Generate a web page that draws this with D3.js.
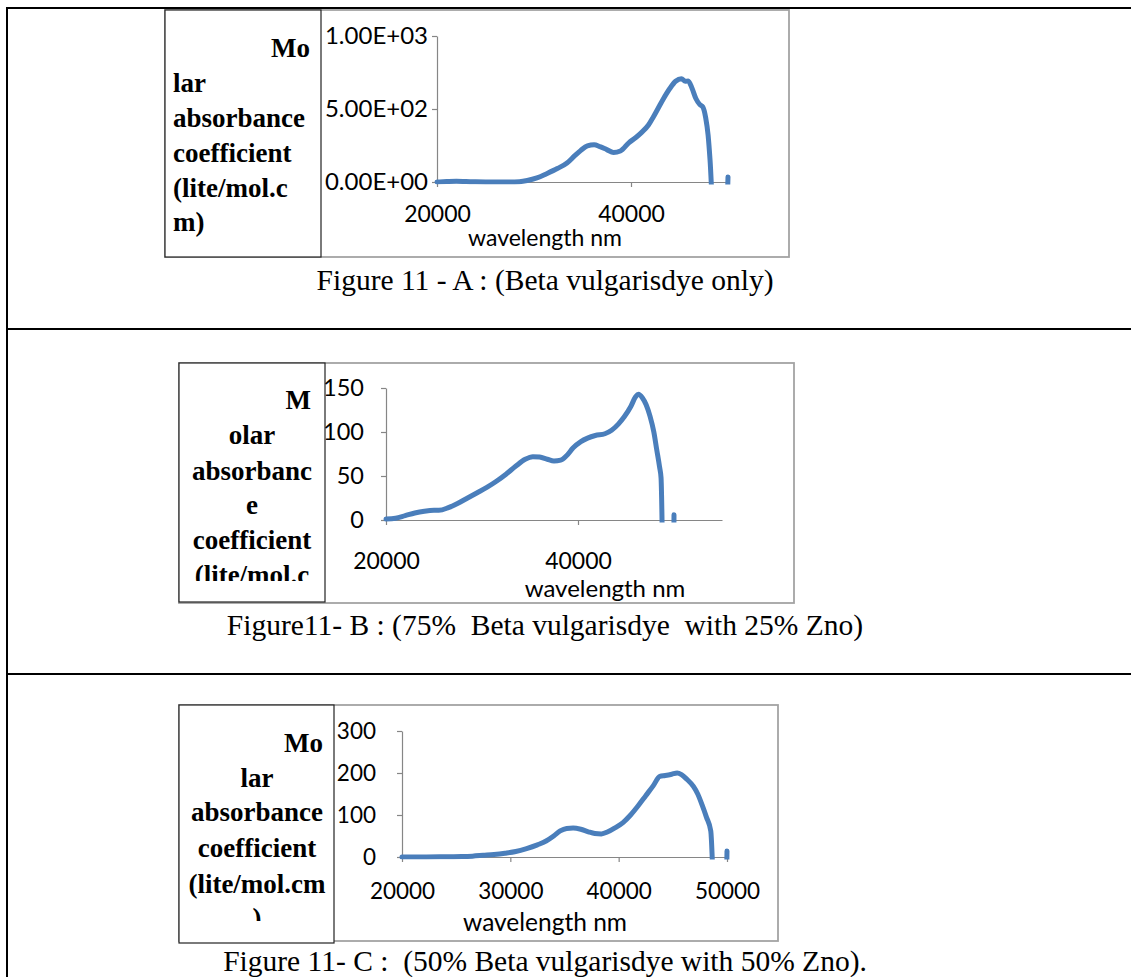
<!DOCTYPE html>
<html>
<head>
<meta charset="utf-8">
<script src="https://cdn.jsdelivr.net/npm/d3@7"></script>
<style>
  html, body { margin: 0; padding: 0; background: #fff; }
  svg { display: block; }
</style>
</head>
<body>
<svg id="fig" width="1131" height="977"></svg>
<script>
// ---- Panel A: Beta vulgaris dye only ----
const wavelengthA = [20000, 21000, 22000, 23000, 24000, 25000, 26500, 27500, 28500, 29300,
  30300, 31300, 32400, 33400, 34200, 34800, 35500, 36200, 36800, 37500, 38200, 38900,
  39800, 40500, 41100, 41800, 42300, 42800, 43300, 44000, 44600, 45200, 45600, 45900,
  46300, 46700, 47100, 47400, 47700, 47950, 48150, 48600, 49600, 50000];
const absorbanceA = [0, 3, 5, 3, 1, 0, 0, 0, 2, 10,
  28, 57, 92, 130, 180, 215, 248, 255, 242, 222, 202, 212,
  270, 305, 340, 390, 445, 505, 565, 640, 690, 708, 690, 692,
  640, 570, 530, 515, 440, 320, 150, -400, -600, 35];

// ---- Panel B: 75% dye with 25% ZnO ----
const wavelengthB = [20000, 21000, 22000, 23000, 24000, 25000, 25500, 26500, 27500, 28500,
  29500, 30500, 31500, 32500, 33500, 34500, 35300, 36000, 36800, 37500, 38200, 38800,
  39500, 40300, 41000, 41800, 42800, 43500, 44200, 44800, 45500, 46000, 46300, 46700,
  47100, 47500, 47900, 48200, 48500, 48650, 49000, 49800, 50000];
const absorbanceB = [1, 2, 5, 8, 10, 11, 11, 14, 19, 25,
  31, 37, 44, 52, 61, 69, 72, 71.5, 69, 67, 68, 73,
  82, 89, 93, 96, 98, 102, 109, 117, 129, 140, 143, 139,
  131, 118, 100, 80, 60, 48, -150, -200, 6];

// ---- Panel C: 50% dye with 50% ZnO ----
const wavelengthC = [20000, 22000, 24000, 25500, 26500, 27500, 28500, 29500, 30500, 31500,
  32500, 33300, 34000, 34600, 35200, 35800, 36500, 37200, 37800, 38400, 39000, 39700,
  40400, 41100, 41800, 42500, 43200, 43800, 44300, 44900, 45400, 45800, 46300, 46900,
  47300, 47700, 48100, 48500, 48900, 49800, 50000];
const absorbanceC = [0, 0, 0.5, 1, 2, 4, 6, 9, 13, 20,
  29, 38, 50, 62, 68, 69, 66, 60, 56, 55, 60, 70,
  82, 100, 122, 146, 170, 192, 194, 197, 200, 196, 185, 168,
  150, 124, 95, 62, -150, -200, 14];

// Axis ticks and their labels
const xTicksA = [20000, 40000];
const yTicksA = [0, 500, 1000];
const yTickLabelsA = ["0.00E+00", "5.00E+02", "1.00E+03"];
const xTicksB = [20000, 40000];
const yTicksB = [0, 50, 100, 150];
const yTickLabelsB = ["0", "50", "100", "150"];
const xTicksC = [20000, 30000, 40000, 50000];
const yTicksC = [0, 100, 200, 300];
const yTickLabelsC = ["0", "100", "200", "300"];

const xTitle = "wavelength nm";
const yTitleLinesA = ["Mo", "lar", "absorbance", "coefficient", "(lite/mol.c", "m)"];
const yTitleLinesB = ["M", "olar", "absorbanc", "e", "coefficient", "(lite/mol.c"];
const yTitleLinesC = ["Mo", "lar", "absorbance", "coefficient", "(lite/mol.cm", ")"];
const captions = [
  "Figure 11 - A : (Beta vulgarisdye only)",
  "Figure11- B : (75%  Beta vulgarisdye  with 25% Zno)",
  "Figure 11- C :  (50% Beta vulgarisdye with 50% Zno)."
];

const svg = d3.select("#fig");
const LINE = "#4a7ebb";
const AXIS = "#868686";
const SANS = "Lato, 'Open Sans', sans-serif";
const SERIF = "'Liberation Serif', 'Times New Roman', serif";

// Table grid framing the three figures
const grid = svg.append("g").attr("stroke", "#000").attr("stroke-width", 2);
[8, 329, 674].forEach(y => grid.append("line").attr("x1", 6).attr("x2", 1131).attr("y1", y).attr("y2", y));
grid.append("line").attr("x1", 7).attr("x2", 7).attr("y1", 7).attr("y2", 977);

const panels = [
  {
    id: "A", wl: wavelengthA, ab: absorbanceA,
    xDomain: [20000, 50000], xRange: [437, 728], xTicks: xTicksA,
    yDomain: [0, 1000], yRange: [182, 36], yTicks: yTicksA, yLabels: yTickLabelsA, yLabelEnd: 428,
    frame: [165, 10, 789, 257], labelBox: [165, 10, 321, 257],
    titleLines: yTitleLinesA, titleAlign: "left", titleX: 173, firstX: 310,
    titleBase: [57, 92, 127, 162, 197, 231], titleClip: 240,
    tickFont: 23, yTickFont: 24, titleFont: 23, tickBase: 222, xTitleX: 545, xTitleBase: 246,
    caption: captions[0], capBase: 290
  },
  {
    id: "B", wl: wavelengthB, ab: absorbanceB,
    xDomain: [20000, 55000], xRange: [386, 722], xTicks: xTicksB,
    yDomain: [0, 150], yRange: [520, 388], yTicks: yTicksB, yLabels: yTickLabelsB, yLabelEnd: 364,
    frame: [179, 363, 794, 603], labelBox: [179, 363, 325, 602],
    titleLines: yTitleLinesB, titleAlign: "middle", titleX: 252, firstX: 311,
    titleBase: [409, 444, 480, 514, 549, 584], titleClip: 581,
    tickFont: 23, yTickFont: 23.5, titleFont: 24, tickBase: 569, xTitleX: 605, xTitleBase: 597,
    caption: captions[1], capBase: 635
  },
  {
    id: "C", wl: wavelengthC, ab: absorbanceC,
    xDomain: [20000, 50000], xRange: [402, 727], xTicks: xTicksC,
    yDomain: [0, 300], yRange: [857, 731], yTicks: yTicksC, yLabels: yTickLabelsC, yLabelEnd: 376,
    frame: [179, 705, 778, 941], labelBox: [179, 705, 334, 943],
    titleLines: yTitleLinesC, titleAlign: "middle", titleX: 257, firstX: 323,
    titleBase: [752, 787, 821, 857, 893, 927], titleClip: 921,
    tickFont: 22.5, yTickFont: 22.5, titleFont: 24.5, tickBase: 899, xTitleX: 545, xTitleBase: 931,
    caption: captions[2], capBase: 971
  }
];

panels.forEach(p => {
  const g = svg.append("g").attr("class", "panel-" + p.id);
  const x = d3.scaleLinear().domain(p.xDomain).range(p.xRange);
  const y = d3.scaleLinear().domain(p.yDomain).range(p.yRange);

  // chart frame
  g.append("rect")
    .attr("x", p.frame[0]).attr("y", p.frame[1])
    .attr("width", p.frame[2] - p.frame[0]).attr("height", p.frame[3] - p.frame[1])
    .attr("fill", "#fff").attr("stroke", "#a3a3a3").attr("stroke-width", 1.8);

  // axes
  const tick = 5;
  const yAxis = d3.axisLeft(y).tickValues(p.yTicks).tickSize(tick).tickSizeOuter(0)
    .tickPadding(p.xRange[0] - p.yLabelEnd - tick)
    .tickFormat((d, i) => p.yLabels[i]);
  const xAxis = d3.axisBottom(x).tickValues(p.xTicks).tickSize(tick).tickSizeOuter(0).tickPadding(0)
    .tickFormat(d3.format("d"));

  const ya = g.append("g").attr("transform", `translate(${p.xRange[0]},0)`).call(yAxis);
  const xa = g.append("g").attr("transform", `translate(0,${p.yRange[0]})`).call(xAxis);
  [ya, xa].forEach(a => {
    a.select(".domain").attr("stroke", AXIS).attr("stroke-width", 1.2);
    a.selectAll(".tick line").attr("stroke", AXIS).attr("stroke-width", 1.2);
    a.selectAll("text").attr("fill", "#000").style("font-family", SANS);
  });
  ya.selectAll("text").style("font-size", p.yTickFont + "px");
  xa.selectAll("text").style("font-size", p.tickFont + "px");
  xa.selectAll(".tick text").attr("y", null).attr("dy", null)
    .attr("transform", `translate(0,${p.tickBase - p.yRange[0]})`);

  // axis title
  g.append("text").attr("x", p.xTitleX).attr("y", p.xTitleBase)
    .attr("text-anchor", "middle").style("font-family", SANS).style("font-size", p.titleFont + "px")
    .text(xTitle);

  // spectrum line, clipped to the plot area
  const clipId = "plot-clip-" + p.id;
  g.append("clipPath").attr("id", clipId).append("rect")
    .attr("x", p.xRange[0] - 3).attr("y", p.yRange[1] - 4)
    .attr("width", p.xRange[1] - p.xRange[0] + 6).attr("height", p.yRange[0] - p.yRange[1] + 6.5);
  const pts = p.wl.map((w, i) => [w, p.ab[i]]);
  const line = d3.line().x(d => x(d[0])).y(d => y(d[1])).curve(d3.curveMonotoneX);
  g.append("path").datum(pts)
    .attr("clip-path", `url(#${clipId})`)
    .attr("d", line)
    .attr("fill", "none").attr("stroke", LINE).attr("stroke-width", 5)
    .attr("stroke-linejoin", "round").attr("stroke-linecap", "round");

  // y-axis title box laid over the chart
  const lb = p.labelBox;
  g.append("rect").attr("x", lb[0]).attr("y", lb[1])
    .attr("width", lb[2] - lb[0]).attr("height", lb[3] - lb[1])
    .attr("fill", "#fff").attr("stroke", "#222").attr("stroke-width", 1.2);
  const tClip = "title-clip-" + p.id;
  g.append("clipPath").attr("id", tClip).append("rect")
    .attr("x", lb[0]).attr("y", lb[1]).attr("width", lb[2] - lb[0]).attr("height", p.titleClip - lb[1]);
  const tg = g.append("g").attr("clip-path", `url(#${tClip})`)
    .style("font-family", SERIF).style("font-weight", "bold").style("font-size", "27px");
  p.titleLines.forEach((t, i) => {
    const first = i === 0;
    tg.append("text")
      .attr("x", first ? p.firstX : p.titleX)
      .attr("y", p.titleBase[i])
      .attr("text-anchor", first ? "end" : (p.titleAlign === "left" ? "start" : "middle"))
      .text(t);
  });

  // caption
  svg.append("text").attr("x", 545).attr("y", p.capBase)
    .attr("text-anchor", "middle").style("font-family", SERIF).style("font-size", "29.5px")
    .style("white-space", "pre").attr("xml:space", "preserve")
    .text(p.caption);
});
</script>
</body>
</html>
